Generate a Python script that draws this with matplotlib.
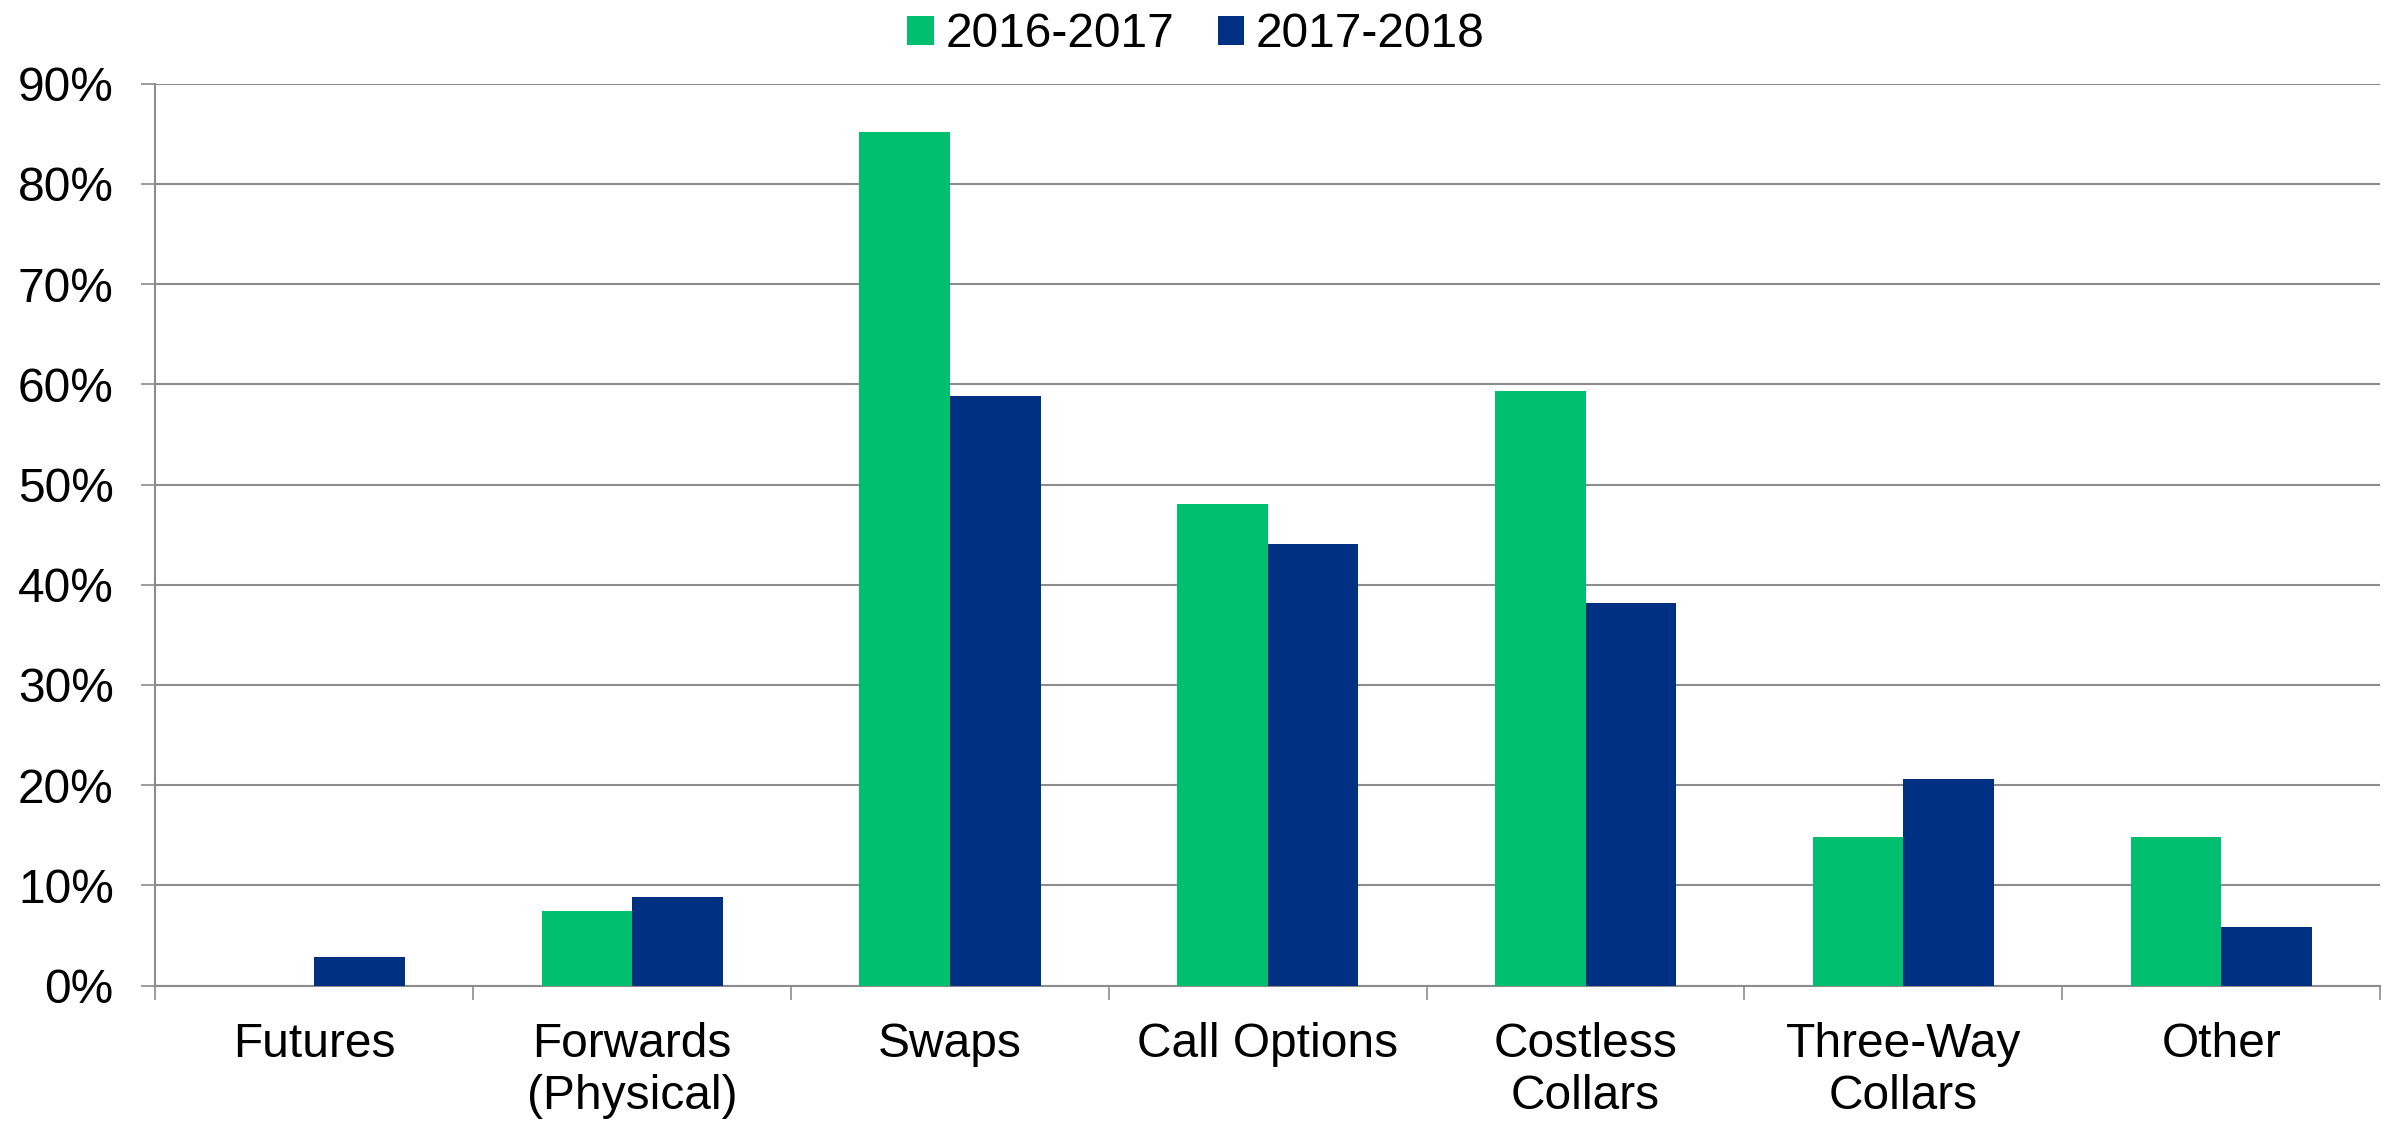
import matplotlib
matplotlib.use("Agg")
import matplotlib.pyplot as plt
import numpy as np
from matplotlib.ticker import FixedLocator, PercentFormatter

categories = ["Futures", "Forwards\n(Physical)", "Swaps", "Call Options",
              "Costless\nCollars", "Three-Way\nCollars", "Other"]
series_names = ["2016-2017", "2017-2018"]
vals_2016 = [0.0, 7.4, 85.2, 48.1, 59.3, 14.8, 14.8]
vals_2017 = [2.9, 8.8, 58.8, 44.1, 38.2, 20.6, 5.9]
yticks = [0, 10, 20, 30, 40, 50, 60, 70, 80, 90]

GREEN = "#00BF6F"
BLUE = "#003082"
GRID = "#8C8C8C"

plt.rcParams['font.family'] = ['Liberation Sans', 'DejaVu Sans']
FS = 34.5

fig = plt.figure(figsize=(23.92, 11.23), dpi=100)
ax = fig.add_axes([0.065, 0.1223, 0.93, 0.8032])

x = np.arange(len(categories))
w = 0.285
ax.bar(x - w / 2, vals_2016, width=w, color=GREEN, label=series_names[0], zorder=3)
ax.bar(x + w / 2, vals_2017, width=w, color=BLUE, label=series_names[1], zorder=3)

ax.set_xlim(-0.5, len(categories) - 0.5)
ax.set_ylim(0, 90)
ax.set_yticks(yticks)
ax.yaxis.set_major_formatter(PercentFormatter(decimals=0))
ax.yaxis.grid(True, color=GRID, linewidth=1.5, zorder=0)
ax.set_axisbelow(True)

ax.set_xticks(x)
ax.set_xticklabels(categories)
ax.xaxis.set_minor_locator(FixedLocator(np.arange(-0.5, len(categories), 1.0)))
ax.tick_params(axis='x', which='major', length=0, pad=26, labelsize=FS)
ax.tick_params(axis='x', which='minor', length=10, width=1.2, color=GRID, direction='out')
ax.tick_params(axis='y', length=10, width=1.2, color=GRID, pad=20, labelsize=FS)

for s in ['top', 'right']:
    ax.spines[s].set_visible(False)
for s in ['left', 'bottom']:
    ax.spines[s].set_color(GRID)
    ax.spines[s].set_linewidth(1.5)

fig.legend(loc='center', bbox_to_anchor=(0.5, 0.969), ncol=2, frameon=False,
           fontsize=FS, handlelength=0.55, handleheight=0.55,
           handletextpad=0.25, columnspacing=0.9, borderaxespad=0)

fig.savefig("out.png", dpi=100)
